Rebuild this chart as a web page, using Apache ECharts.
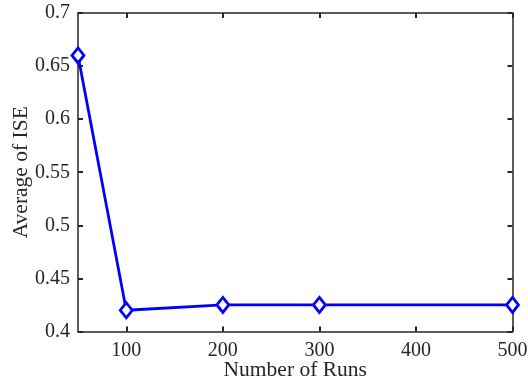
<!DOCTYPE html>
<html>
<head>
<meta charset="utf-8">
<script src="https://cdn.jsdelivr.net/npm/echarts@6/dist/echarts.min.js"></script>
<style>
  html, body { margin: 0; padding: 0; background: #fff; }
  #chart { width: 528px; height: 388px; }
</style>
</head>
<body>
<div id="chart"></div>
<script>
// data
const runs = [50, 100, 200, 300, 500];
const iseAvg = [0.66, 0.42, 0.425, 0.425, 0.425];
const xTicks = [100, 200, 300, 400, 500];

const chart = echarts.init(document.getElementById("chart"));
const font = "Liberation Serif";
const axisColor = "#262626";

const boxAxis = (extra) => Object.assign({
  type: "value",
  axisLine: { show: true, onZero: false, lineStyle: { color: axisColor, width: 1.5 } },
  axisTick: { show: true, inside: true, length: 5, lineStyle: { color: axisColor, width: 2 } },
  splitLine: { show: false },
}, extra);

const option = {
  animation: false,
  grid: { left: 78, right: 15.5, top: 13, bottom: 56.5, outerBoundsMode: "none" },
  xAxis: [
    boxAxis({
      min: 50, max: 500,
      name: "Number of Runs",
      nameLocation: "middle",
      nameGap: 28,
      nameMoveOverlap: false,
      nameTextStyle: { fontFamily: font, fontSize: 21.5, color: "#262626" },
      axisLabel: {
        fontFamily: font, fontSize: 20, color: "#262626", margin: 9,
        customValues: xTicks
      },
      axisTick: { show: true, inside: true, length: 5, customValues: xTicks, lineStyle: { color: axisColor, width: 2 } }
    }),
    boxAxis({
      min: 50, max: 500, position: "top",
      axisLabel: { show: false },
      axisTick: { show: true, inside: true, length: 5, customValues: xTicks, lineStyle: { color: axisColor, width: 2 } }
    })
  ],
  yAxis: [
    boxAxis({
      min: 0.4, max: 0.7, interval: 0.05,
      name: "Average of ISE",
      nameLocation: "middle",
      nameGap: 46,
      nameMoveOverlap: false,
      nameTextStyle: { fontFamily: font, fontSize: 21.5, color: "#262626" },
      axisLabel: { fontFamily: font, fontSize: 20, color: "#262626", margin: 8 }
    }),
    boxAxis({
      min: 0.4, max: 0.7, interval: 0.05, position: "right",
      axisLabel: { show: false }
    })
  ],
  series: [
    {
      type: "line",
      data: runs.map((r, i) => [r, iseAvg[i]]),
      symbol: "diamond",
      symbolSize: [12, 15],
      showAllSymbol: true,
      lineStyle: { color: "#0000ff", width: 2.8 },
      itemStyle: { color: "#ffffff", borderColor: "#0000ff", borderWidth: 2.8 }
    }
  ]
};

chart.setOption(option);
</script>
</body>
</html>
